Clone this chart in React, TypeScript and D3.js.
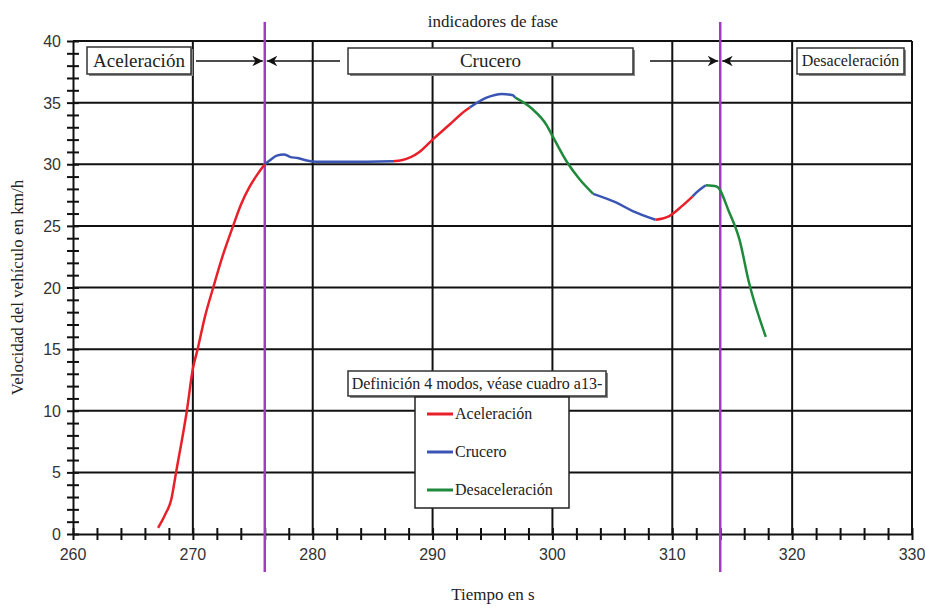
import React, { useEffect, useRef } from "react";
import * as d3 from "d3";

// mode of each segment, and its points [time s, speed km/h]
const segmentModes = [
  "Aceleración",
  "Crucero",
  "Aceleración",
  "Crucero",
  "Desaceleración",
  "Crucero",
  "Aceleración",
  "Crucero",
  "Desaceleración",
];

const segmentPoints: [number, number][][] = [
  [[267.1, 0.5], [267.7, 1.6], [268.2, 2.8], [268.6, 5.0], [269.5, 10.0], [270.0, 13.4], [270.4, 15.0], [271.0, 17.6], [271.7, 20.0], [272.5, 22.6], [273.36, 25.0], [274.0, 26.7], [274.75, 28.2], [275.4, 29.2], [276, 30]],
  [[276, 30], [276.4, 30.3], [277, 30.7], [277.6, 30.8], [278.1, 30.6], [278.75, 30.5], [279.5, 30.3], [280.3, 30.2], [283, 30.2], [286.7, 30.25]],
  [[286.7, 30.25], [287.5, 30.35], [288.9, 31.0], [290, 32.0], [291.4, 33.2], [292.8, 34.4], [293.1, 34.6]],
  [[293.1, 34.6], [294.5, 35.4], [295.8, 35.7], [296.7, 35.6], [296.9, 35.4]],
  [[296.9, 35.4], [298.3, 34.5], [299.5, 33.2], [300, 32.3], [301.2, 30.2], [302.25, 28.8], [303.4, 27.6]],
  [[303.4, 27.6], [305.3, 26.9], [306.7, 26.2], [308.6, 25.5]],
  [[308.6, 25.5], [309.2, 25.6], [309.75, 25.8], [310.8, 26.6], [311.7, 27.4]],
  [[311.7, 27.4], [312, 27.7], [312.8, 28.3]],
  [[312.8, 28.3], [313.7, 28.2], [314.75, 26.1], [315.6, 23.9], [316.4, 20.4], [317.8, 16.0]],
];

const modes = ["Aceleración", "Crucero", "Desaceleración"];
const modeColors = ["#e8202a", "#3a55b4", "#1f8a3c"];

// phase change markers (s)
const phaseLines = [276, 314];

const xTicks = [260, 270, 280, 290, 300, 310, 320, 330];
const yTicks = [0, 5, 10, 15, 20, 25, 30, 35, 40];

const serif = "Liberation Serif";
const sans = "Liberation Sans";

function drawChart(container: SVGSVGElement) {
  const svg = d3.select(container);
  svg.selectAll("*").remove();

  const margin = { top: 41, right: 13, bottom: 74, left: 73 };
  const width = 925;
  const height = 608;

  const x = d3.scaleLinear().domain([260, 330]).range([margin.left, width - margin.right]);
  const y = d3.scaleLinear().domain([0, 40]).range([height - margin.bottom, margin.top]);
  const color = d3.scaleOrdinal<string>().domain(modes).range(modeColors);

  svg
    .append("defs")
    .append("marker")
    .attr("id", "arrow")
    .attr("viewBox", "0 0 10 10")
    .attr("refX", 10)
    .attr("refY", 5)
    .attr("markerWidth", 7)
    .attr("markerHeight", 7)
    .attr("orient", "auto")
    .append("path")
    .attr("d", "M0,0 L10,5 L0,10 L3,5 Z")
    .attr("fill", "#111");

  // grid
  const grid = svg.append("g").attr("stroke", "#111").attr("stroke-width", 2);
  grid
    .selectAll(".gy")
    .data(yTicks.slice(1))
    .enter()
    .append("line")
    .attr("x1", x(260))
    .attr("x2", x(330))
    .attr("y1", (d) => y(d))
    .attr("y2", (d) => y(d));
  grid
    .selectAll(".gx")
    .data(xTicks.slice(1))
    .enter()
    .append("line")
    .attr("y1", y(0))
    .attr("y2", y(40))
    .attr("x1", (d) => x(d))
    .attr("x2", (d) => x(d));

  // axes
  svg
    .append("g")
    .attr("transform", `translate(0,${y(0)})`)
    .call(
      d3
        .axisBottom(x)
        .tickValues(d3.range(260, 331, 2))
        .tickSize(0)
        .tickFormat(() => "")
    )
    .call((g) => g.select(".domain").attr("stroke", "#111").attr("stroke-width", 2))
    .call((g) =>
      g
        .selectAll(".tick")
        .append("line")
        .attr("y1", -6)
        .attr("y2", 6)
        .attr("stroke", "#111")
        .attr("stroke-width", 2)
    );

  svg
    .append("g")
    .attr("transform", `translate(${x(260)},0)`)
    .call(
      d3
        .axisLeft(y)
        .tickValues(d3.range(0, 41, 1))
        .tickSize(0)
        .tickFormat(() => "")
    )
    .call((g) => g.select(".domain").attr("stroke", "#111").attr("stroke-width", 2))
    .call((g) =>
      g
        .selectAll(".tick")
        .append("line")
        .attr("x1", -6)
        .attr("x2", 6)
        .attr("stroke", "#111")
        .attr("stroke-width", 2)
    );

  // tick labels
  svg
    .append("g")
    .selectAll("text")
    .data(xTicks)
    .enter()
    .append("text")
    .attr("x", (d) => x(d))
    .attr("y", y(0) + 26)
    .attr("text-anchor", "middle")
    .attr("font-family", sans)
    .attr("font-size", 16)
    .attr("fill", "#333")
    .text((d) => d);

  svg
    .append("g")
    .selectAll("text")
    .data(yTicks)
    .enter()
    .append("text")
    .attr("x", x(260) - 12)
    .attr("y", (d) => y(d) + 6)
    .attr("text-anchor", "end")
    .attr("font-family", sans)
    .attr("font-size", 16)
    .attr("fill", "#333")
    .text((d) => d);

  // axis titles
  svg
    .append("text")
    .attr("x", 493)
    .attr("y", 600)
    .attr("text-anchor", "middle")
    .attr("font-family", serif)
    .attr("font-size", 17)
    .attr("fill", "#222")
    .text("Tiempo en s");

  svg
    .append("text")
    .attr("transform", `translate(23,${(y(0) + y(40)) / 2}) rotate(-90)`)
    .attr("text-anchor", "middle")
    .attr("font-family", serif)
    .attr("font-size", 17)
    .attr("fill", "#222")
    .text("Velocidad del vehículo en km/h");

  svg
    .append("text")
    .attr("x", 493)
    .attr("y", 27)
    .attr("text-anchor", "middle")
    .attr("font-family", serif)
    .attr("font-size", 17)
    .attr("fill", "#222")
    .text("indicadores de fase");

  // phase lines
  svg
    .append("g")
    .selectAll("line")
    .data(phaseLines)
    .enter()
    .append("line")
    .attr("x1", (d) => x(d))
    .attr("x2", (d) => x(d))
    .attr("y1", 22)
    .attr("y2", 572)
    .attr("stroke", "#a03cc0")
    .attr("stroke-width", 2.5);

  // speed curve
  const line = d3
    .line<[number, number]>()
    .x((d) => x(d[0]))
    .y((d) => y(d[1]))
    .curve(d3.curveMonotoneX);

  svg
    .append("g")
    .selectAll("path")
    .data(segmentPoints)
    .enter()
    .append("path")
    .attr("d", (d) => line(d))
    .attr("fill", "none")
    .attr("stroke", (d, i) => color(segmentModes[i]))
    .attr("stroke-width", 2.5);

  // labelled boxes
  const box = (x0: number, y0: number, w: number, h: number, label: string, size: number) => {
    const g = svg.append("g");
    g.append("rect")
      .attr("x", x0 + 2)
      .attr("y", y0 + 2)
      .attr("width", w)
      .attr("height", h)
      .attr("fill", "#888");
    g.append("rect")
      .attr("x", x0)
      .attr("y", y0)
      .attr("width", w)
      .attr("height", h)
      .attr("fill", "#fff")
      .attr("stroke", "#333")
      .attr("stroke-width", 1.5);
    g.append("text")
      .attr("x", x0 + w / 2)
      .attr("y", y0 + h / 2 + size * 0.33)
      .attr("text-anchor", "middle")
      .attr("font-family", serif)
      .attr("font-size", size)
      .attr("fill", "#222")
      .text(label);
  };

  box(87, 47, 104, 27, "Aceleración", 19);
  box(348, 48, 285, 26, "Crucero", 19);
  box(797, 48, 107, 26, "Desaceleración", 16);

  // arrows pointing to the phase lines
  const arrows = [
    [196, x(phaseLines[0]) - 2],
    [340, x(phaseLines[0]) + 2],
    [650, x(phaseLines[1]) - 2],
    [792, x(phaseLines[1]) + 2],
  ];
  svg
    .append("g")
    .selectAll("line")
    .data(arrows)
    .enter()
    .append("line")
    .attr("x1", (d) => d[0])
    .attr("x2", (d) => d[1])
    .attr("y1", 61)
    .attr("y2", 61)
    .attr("stroke", "#111")
    .attr("stroke-width", 1.5)
    .attr("marker-end", "url(#arrow)");

  // legend
  box(348, 371, 258, 25, "Definición 4 modos, véase cuadro a13-", 16);
  const legend = svg.append("g").attr("transform", "translate(415,397)");
  legend
    .append("rect")
    .attr("width", 154)
    .attr("height", 111)
    .attr("fill", "#fff")
    .attr("stroke", "#222")
    .attr("stroke-width", 1.5);
  modes.forEach((m, i) => {
    const row = legend.append("g").attr("transform", `translate(0,${17 + i * 38})`);
    row
      .append("line")
      .attr("x1", 12)
      .attr("x2", 38)
      .attr("stroke", color(m))
      .attr("stroke-width", 3);
    row
      .append("text")
      .attr("x", 40)
      .attr("y", 5)
      .attr("font-family", serif)
      .attr("font-size", 16)
      .attr("fill", "#222")
      .text(m);
  });
}

const App = () => {
  const ref = useRef<SVGSVGElement>(null);
  useEffect(() => {
    if (ref.current) drawChart(ref.current);
  }, []);
  return (
    <svg
      ref={ref}
      width={925}
      height={608}
      style={{ position: "absolute", left: 0, top: 0, background: "#fff" }}
    />
  );
};

export default App;
